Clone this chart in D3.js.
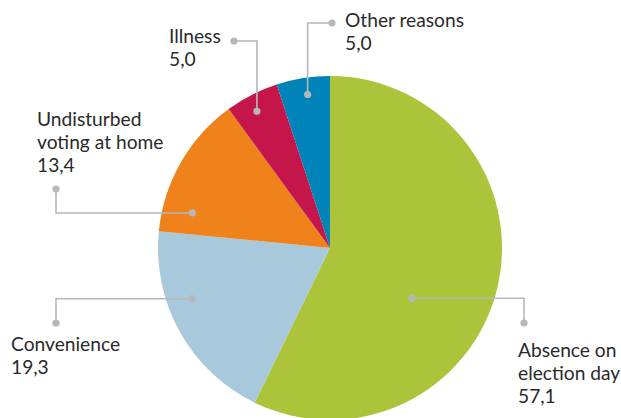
<!DOCTYPE html>
<html>
<head>
<meta charset="utf-8">
<script src="https://cdn.jsdelivr.net/npm/d3@7"></script>
<style>
  html, body { margin: 0; padding: 0; background: #fff; }
  svg { display: block; }
  text { font-family: Lato, "Open Sans", sans-serif; font-size: 19.2px; fill: #2a2a2a; }
</style>
</head>
<body>
<svg id="chart" width="621" height="418"></svg>
<script>
const categories = ["Absence on election day", "Convenience", "Undisturbed voting at home", "Illness", "Other reasons"];
const values = [57.1, 19.3, 13.4, 5.0, 5.0];
const valueLabels = ["57,1", "19,3", "13,4", "5,0", "5,0"];
const labelLines = [["Absence on", "election day"], ["Convenience"], ["Undisturbed", "voting at home"], ["Illness"], ["Other reasons"]];
const colors = ["#abc43a", "#a8c8dc", "#ef821a", "#c4164b", "#0083b8"];

const W = 621, H = 418;
const cx = 330, cy = 248, R = 172;
const svg = d3.select("#chart");
const g = svg.append("g").attr("transform", `translate(${cx},${cy})`);

const pie = d3.pie().sort(null).value(d => d.value);
const data = categories.map((c, i) => ({ name: c, value: values[i], i }));
const arcs = pie(data);
const arc = d3.arc().innerRadius(0).outerRadius(R);
const color = d3.scaleOrdinal().domain(categories).range(colors);

g.selectAll("path.slice").data(arcs).join("path")
  .attr("class", "slice")
  .attr("d", arc)
  .attr("fill", d => color(d.data.name));

// Leader-line layout: anchor inside slice (fraction along slice angle, radius),
// elbow and label placement (absolute page positions).
const leaders = [
  { t: 0.59, r: 96,  elbow: "h", end: [524, 323], text: [518, 357] },
  { t: 0.63, r: 147, elbow: "h", end: [56, 323],  text: [11, 351] },
  { t: 0.18, r: 142, elbow: "h", end: [56, 189],  text: [37, 126] },
  { t: 0.44, r: 155, elbow: "v", end: [234, 41],  text: [169, 43] },
  { t: 0.54, r: 155, elbow: "v", end: [332, 23],  text: [345, 27] }
];

const lg = svg.append("g");
arcs.forEach((a, i) => {
  const L = leaders[i];
  const ang = a.startAngle + (a.endAngle - a.startAngle) * L.t;
  const ax = cx + L.r * Math.sin(ang), ay = cy - L.r * Math.cos(ang);
  let pts;
  if (L.elbow === "h") pts = [[ax, ay], [L.end[0], ay], L.end];
  else pts = [[ax, ay], [ax, L.end[1]], L.end];
  lg.append("path")
    .attr("d", d3.line()(pts))
    .attr("fill", "none")
    .attr("stroke", "#b4b8bc")
    .attr("stroke-width", 1.6);
  [pts[0], pts[2]].forEach(p => lg.append("circle")
    .attr("cx", p[0]).attr("cy", p[1]).attr("r", 3.6).attr("fill", "#b4b8bc"));

  const t = lg.append("text").attr("x", L.text[0]).attr("y", L.text[1]);
  const lines = labelLines[i].concat([valueLabels[i]]);
  lines.forEach((s, k) => t.append("tspan").attr("x", L.text[0]).attr("dy", k === 0 ? 0 : 23).text(s));
});
</script>
</body>
</html>
